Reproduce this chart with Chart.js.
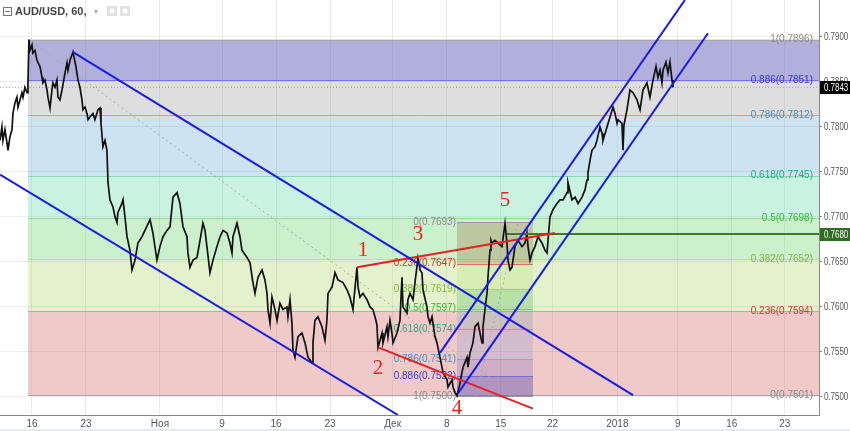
<!DOCTYPE html>
<html>
<head>
<meta charset="utf-8">
<script src="https://cdn.jsdelivr.net/npm/chart.js@4.4.1/dist/chart.umd.min.js"></script>
<style>
  body { margin: 0; background: #fff; }
  canvas { display: block; }
</style>
</head>
<body>
<canvas id="audChart" width="850" height="431"></canvas>
<script>
// AUD/USD, 60 - price (x = trading days from 16 Oct)
var priceDays = [
  -2.96,-2.78,-2.69,-2.50,-2.31,-2.22,-2.04,-1.85,-1.76,-1.57,-1.39,-1.30,-1.11,-0.93,-0.83,-0.65,-0.46,-0.37,-0.28,-0.19,
  0,0.09,0.28,0.46,0.74,0.93,1.02,1.20,1.39,1.48,1.67,1.85,1.94,2.13,2.31,2.41,2.59,2.78,2.87,3.06,
  3.24,3.33,3.52,3.80,4.07,4.26,4.44,4.63,4.72,4.91,5.09,5.19,5.37,5.65,5.83,6.11,6.30,6.39,6.57,6.76,
  6.94,7.04,7.22,7.50,7.69,7.87,7.96,8.33,8.43,8.61,8.80,9.07,9.26,9.54,9.81,10.19,10.46,10.93,11.20,11.57,
  11.85,12.13,12.50,12.78,13.06,13.43,13.70,13.98,14.35,14.44,14.63,14.91,15.28,15.56,15.83,16.02,16.20,16.48,16.76,17.13,
  17.41,17.69,18.06,18.33,18.52,18.61,18.98,19.26,19.44,19.91,20.19,20.46,20.65,20.93,21.30,21.57,21.76,21.85,22.04,22.22,
  22.50,22.69,22.96,23.24,23.61,23.70,23.89,24.07,24.17,24.35,24.63,25.00,25.28,25.56,25.93,26.02,26.20,26.48,26.85,27.13,
  27.31,27.41,27.78,28.06,28.33,28.80,29.17,29.44,29.72,30.09,30.19,30.37,30.65,31.02,31.30,31.57,31.76,31.94,32.04,32.41,
  32.50,32.87,32.96,33.15,33.33,33.43,33.80,34.07,34.26,34.35,34.72,34.81,35.00,35.28,35.46,35.74,35.93,36.11,36.20,36.57,
  36.67,36.85,37.04,37.31,37.50,37.78,37.96,38.06,38.43,38.52,38.89,38.98,39.17,39.35,39.63,39.81,39.91,40.28,40.37,40.56,
  40.83,41.02,41.30,41.48,41.67,41.76,41.94,42.13,42.22,42.41,42.50,42.59,42.87,43.15,43.52,43.80,43.98,44.07,44.26,44.44,
  44.72,45.00,45.37,45.65,45.83,45.93,46.11,46.30,46.57,46.85,47.22,47.50,47.69,47.78,47.96,48.24,48.61,48.89,49.17,49.54,
  49.63,50.00,50.28,50.56,50.93,51.20,51.39,51.48,51.67,51.85,52.13,52.31,52.59,52.78,52.87,53.24,53.52,53.80,53.98,54.17,
  54.26,54.63,54.72,54.81,55.09,55.37,55.65,56.02,56.30,56.57,56.94,57.22,57.50,57.78,57.96,58.15,58.33,58.43,58.70,58.89,
  59.07,59.26,59.35
];
var priceValues = [
  0.7784,0.7799,0.7784,0.7796,0.7781,0.7773,0.7788,0.7796,0.7814,0.7826,0.7832,0.7821,0.7829,0.7837,0.7832,0.7843,0.7837,0.7848,0.7896,0.7884,
  0.7890,0.7881,0.7884,0.7873,0.7866,0.7854,0.7848,0.7851,0.7840,0.7832,0.7820,0.7840,0.7848,0.7843,0.7851,0.7832,0.7829,0.7840,0.7846,0.7859,
  0.7870,0.7862,0.7873,0.7882,0.7866,0.7851,0.7843,0.7829,0.7818,0.7821,0.7814,0.7807,0.7810,0.7814,0.7807,0.7818,0.7820,0.7803,0.7777,0.7784,
  0.7773,0.7737,0.7718,0.7710,0.7699,0.7693,0.7704,0.7714,0.7718,0.7699,0.7677,0.7662,0.7640,0.7651,0.7670,0.7677,0.7684,0.7696,0.7681,0.7651,
  0.7666,0.7677,0.7684,0.7688,0.7721,0.7726,0.7714,0.7688,0.7677,0.7659,0.7643,0.7651,0.7654,0.7673,0.7692,0.7684,0.7666,0.7637,0.7651,0.7666,
  0.7677,0.7684,0.7681,0.7670,0.7659,0.7677,0.7692,0.7677,0.7662,0.7654,0.7648,0.7626,0.7614,0.7632,0.7640,0.7629,0.7614,0.7596,0.7581,0.7610,
  0.7596,0.7584,0.7603,0.7596,0.7599,0.7588,0.7607,0.7581,0.7551,0.7543,0.7566,0.7570,0.7559,0.7543,0.7537,0.7559,0.7584,0.7588,0.7577,0.7562,
  0.7584,0.7614,0.7621,0.7637,0.7629,0.7626,0.7618,0.7610,0.7596,0.7643,0.7621,0.7610,0.7614,0.7607,0.7599,0.7596,0.7588,0.7579,0.7554,0.7570,
  0.7559,0.7577,0.7566,0.7584,0.7570,0.7559,0.7570,0.7584,0.7632,0.7599,0.7592,0.7607,0.7614,0.7607,0.7626,0.7653,0.7640,0.7637,0.7618,0.7599,
  0.7588,0.7581,0.7588,0.7566,0.7559,0.7543,0.7532,0.7526,0.7518,0.7510,0.7518,0.7510,0.7504,0.7500,0.7514,0.7526,0.7532,0.7543,0.7532,0.7548,
  0.7559,0.7577,0.7581,0.7570,0.7559,0.7577,0.7596,0.7614,0.7632,0.7662,0.7673,0.7670,0.7673,0.7670,0.7666,0.7692,0.7670,0.7651,0.7640,0.7643,
  0.7666,0.7673,0.7666,0.7670,0.7681,0.7666,0.7651,0.7659,0.7666,0.7677,0.7670,0.7662,0.7659,0.7673,0.7699,0.7707,0.7714,0.7718,0.7718,0.7726,
  0.7737,0.7718,0.7721,0.7714,0.7721,0.7729,0.7740,0.7748,0.7762,0.7773,0.7777,0.7784,0.7799,0.7792,0.7784,0.7799,0.7810,0.7821,0.7814,0.7803,
  0.7807,0.7803,0.7773,0.7801,0.7818,0.7840,0.7837,0.7829,0.7818,0.7840,0.7848,0.7832,0.7851,0.7866,0.7854,0.7862,0.7848,0.7862,0.7871,0.7859,
  0.7871,0.7851,0.7843
];

// axes
var xTickDays   = [0, 5, 11.85, 17.6, 22.6, 27.6, 33.4, 38.4, 43.4, 48.2, 54.2, 59.8, 64.8, 69.7];
var xTickLabels = ['16', '23', 'Ноя', '9', '16', '23', 'Дек', '8', '15', '22', '2018', '9', '16', '23'];
var yTicks = [0.75, 0.755, 0.76, 0.765, 0.77, 0.775, 0.78, 0.785, 0.79];
var xMin = -2.96, xMax = 72.87, yMin = 0.74789, yMax = 0.794;

// big fib retracement (high -> low)
var bigFibStart  = -0.37;
var bigFibRatios = ['1', '0.886', '0.786', '0.618', '0.5', '0.382', '0.236', '0'];
var bigFibPrices = [0.7896, 0.7851, 0.7812, 0.7745, 0.7698, 0.7652, 0.7594, 0.7501];

// small fib retracement (point 5 -> point 4)
var smallFibStart  = 39.35;
var smallFibEnd    = 46.39;
var smallFibRatios = ['0', '0.236', '0.382', '0.5', '0.618', '0.786', '0.886', '1'];
var smallFibPrices = [0.7693, 0.7647, 0.7619, 0.7597, 0.7574, 0.7541, 0.7522, 0.7500];

// drawn lines [day, price]
var chanDownUpper = [[3.80, 0.7882], [55.65, 0.7501]];
var chanDownLower = [[-2.96, 0.7746], [33.89, 0.74789]];
var chanUpLower   = [[39.44, 0.7503], [62.59, 0.7903]];
var chanUpUpper   = [[37.78, 0.7548], [60.46, 0.7940]];
var redUpper      = [[30.09, 0.7643], [48.43, 0.7681]];
var redLower      = [[32.04, 0.7554], [46.39, 0.7486]];
var greenLevel    = [[43.98, 0.7680], [72.87, 0.7680]];
var lastPriceLine = [[-2.96, 0.7843], [72.87, 0.7843]];
var bigTrend      = [[-0.28, 0.7896], [44.72, 0.7500]];
var smallTrend    = [[41.11, 0.7500], [45.00, 0.7693]];

// wave numbers
var waveLabels = ['1', '2', '3', '4', '5'];
var waveDays   = [30.65, 32.04, 35.74, 39.35, 43.80];
var wavePrices = [0.7662, 0.7531, 0.7680, 0.7486, 0.7717];

var lastPrice = 0.7843;
var greenPrice = 0.7680;

function pts(arr) {
  return arr.map(function (p) { return { x: p[0], y: p[1] }; });
}
function lineSet(arr, color, width, dash) {
  return {
    data: pts(arr),
    borderColor: color,
    borderWidth: width,
    borderDash: dash || [],
    pointRadius: 0,
    fill: false,
    tension: 0
  };
}

var bigBandColors = ['rgba(60,55,165,0.40)', 'rgba(90,90,90,0.20)', 'rgba(52,144,200,0.25)',
                     'rgba(40,204,140,0.25)', 'rgba(52,196,48,0.25)', 'rgba(115,190,0,0.20)', 'rgba(196,40,40,0.25)'];
var bigLineColors = ['#a8a8a8', '#7474dc', '#80b8dc', '#88d8b4', '#94dc90', '#bcdc90', '#e09a9a', '#a8a8a8'];
var bigTextColors = ['#8a8a8a', '#3c3cc0', '#3d90cc', '#25ad80', '#38b838', '#86b82c', '#cc3434', '#8a8a8a'];

var smallBandColors = ['rgba(150,105,60,0.30)', 'rgba(129,199,0,0.12)', 'rgba(60,170,60,0.25)',
                       'rgba(0,150,136,0.15)', 'rgba(90,140,220,0.20)', 'rgba(80,80,190,0.22)', 'rgba(60,45,175,0.35)'];
var smallLineColors = ['#9a9a9a', '#d07070', '#a8d070', '#70c870', '#60c0a8', '#78acd8', '#7070d0', '#9a9a9a'];
var smallTextColors = ['#8a8a8a', '#c83434', '#86b82c', '#38b838', '#25ad80', '#3d90cc', '#3c3cc0', '#8a8a8a'];

var fibPlugin = {
  id: 'fib',
  beforeDatasetsDraw: function (chart) {
    var ctx = chart.ctx, a = chart.chartArea;
    var x = chart.scales.x, y = chart.scales.y;
    ctx.save();
    ctx.beginPath();
    ctx.rect(a.left, a.top, a.right - a.left, a.bottom - a.top);
    ctx.clip();

    // big fib
    var bx0 = x.getPixelForValue(bigFibStart), bx1 = a.right;
    for (var i = 0; i < bigFibPrices.length - 1; i++) {
      var y0 = y.getPixelForValue(bigFibPrices[i]);
      var y1 = y.getPixelForValue(bigFibPrices[i + 1]);
      ctx.fillStyle = bigBandColors[i];
      ctx.fillRect(bx0, y0, bx1 - bx0, y1 - y0);
    }
    ctx.lineWidth = 1;
    for (i = 0; i < bigFibPrices.length; i++) {
      var yy = Math.round(y.getPixelForValue(bigFibPrices[i])) + 0.5;
      ctx.strokeStyle = bigLineColors[i];
      ctx.beginPath(); ctx.moveTo(bx0, yy); ctx.lineTo(bx1, yy); ctx.stroke();
    }

    // small fib
    var sx0 = x.getPixelForValue(smallFibStart), sx1 = x.getPixelForValue(smallFibEnd);
    for (i = 0; i < smallFibPrices.length - 1; i++) {
      var s0 = y.getPixelForValue(smallFibPrices[i]);
      var s1 = y.getPixelForValue(smallFibPrices[i + 1]);
      ctx.fillStyle = smallBandColors[i];
      ctx.fillRect(sx0, s0, sx1 - sx0, s1 - s0);
    }
    for (i = 0; i < smallFibPrices.length; i++) {
      var sy = Math.round(y.getPixelForValue(smallFibPrices[i])) + 0.5;
      ctx.strokeStyle = smallLineColors[i];
      ctx.beginPath(); ctx.moveTo(sx0, sy); ctx.lineTo(sx1, sy); ctx.stroke();
    }

    // fib texts
    ctx.font = '10px "Liberation Sans", Arial, sans-serif';
    ctx.textBaseline = 'middle';
    ctx.textAlign = 'right';
    for (i = 0; i < bigFibPrices.length; i++) {
      ctx.fillStyle = bigTextColors[i];
      ctx.fillText(bigFibRatios[i] + '(' + bigFibPrices[i].toFixed(4) + ')', a.right - 6, y.getPixelForValue(bigFibPrices[i]));
    }
    for (i = 0; i < smallFibPrices.length; i++) {
      ctx.fillStyle = smallTextColors[i];
      ctx.fillText(smallFibRatios[i] + '(' + smallFibPrices[i].toFixed(4) + ')', sx0 - 1, y.getPixelForValue(smallFibPrices[i]));
    }
    ctx.restore();
  },
  afterDatasetsDraw: function (chart) {
    var ctx = chart.ctx, x = chart.scales.x, y = chart.scales.y;
    ctx.save();
    ctx.font = '21px "Liberation Serif", "Times New Roman", serif';
    ctx.fillStyle = '#e8231c';
    ctx.textAlign = 'center';
    ctx.textBaseline = 'middle';
    for (var i = 0; i < waveLabels.length; i++) {
      ctx.fillText(waveLabels[i], x.getPixelForValue(waveDays[i]), y.getPixelForValue(wavePrices[i]));
    }
    ctx.restore();
  },
  afterDraw: function (chart) {
    var ctx = chart.ctx, a = chart.chartArea, y = chart.scales.y;
    ctx.save();
    // y tick labels, condensed like the reference
    ctx.font = '11px "Liberation Sans", Arial, sans-serif';
    ctx.textBaseline = 'middle';
    ctx.textAlign = 'left';
    ctx.fillStyle = '#555';
    yTicks.forEach(function (v) {
      ctx.save();
      ctx.translate(a.right + 5, y.getPixelForValue(v));
      ctx.scale(0.72, 1);
      ctx.fillText(v.toFixed(4), 0, 0.5);
      ctx.restore();
    });

    // price boxes on the axis
    var boxes = [[lastPrice, '#000000'], [greenPrice, '#2f6b22']];
    boxes.forEach(function (b) {
      var py = Math.round(y.getPixelForValue(b[0]));
      ctx.fillStyle = b[1];
      ctx.fillRect(a.right + 1, py - 6, 850 - a.right - 1, 13);
      ctx.fillStyle = '#ffffff';
      ctx.save();
      ctx.translate(a.right + 5, py + 0.5);
      ctx.scale(0.72, 1);
      ctx.fillText(b[0].toFixed(4), 0, 0);
      ctx.restore();
    });

    // title
    ctx.strokeStyle = '#777';
    ctx.lineWidth = 1;
    ctx.strokeRect(3.5, 7.5, 8, 8);
    ctx.beginPath(); ctx.moveTo(5, 11.5); ctx.lineTo(10, 11.5); ctx.stroke();
    ctx.fillStyle = '#444';
    ctx.font = 'bold 11px "Liberation Sans", Arial, sans-serif';
    ctx.fillText('AUD/USD, 60,', 15, 12);
    ctx.fillStyle = '#aaa';
    ctx.font = '8px "Liberation Sans", Arial, sans-serif';
    ctx.fillText('▾', 94, 12);
    ctx.fillStyle = '#e2e2e2';
    ctx.fillRect(107, 6, 10, 10);
    ctx.fillRect(120, 6, 10, 10);
    ctx.fillStyle = '#ffffff';
    ctx.beginPath(); ctx.arc(112, 11, 2.5, 0, Math.PI * 2); ctx.fill();
    ctx.beginPath(); ctx.arc(125, 11, 2.5, 0, Math.PI * 2); ctx.fill();

    // bottom strip
    ctx.fillStyle = '#e6e9ee';
    ctx.fillRect(0, 429, 850, 2);
    ctx.restore();
  }
};

var priceData = priceDays.map(function (d, i) { return { x: d, y: priceValues[i] }; });

var ctx = document.getElementById('audChart').getContext('2d');
var chart = new Chart(ctx, {
  type: 'line',
  data: {
    datasets: [
      lineSet(chanDownUpper, '#1a1ae8', 2),
      lineSet(chanDownLower, '#1a1ae8', 2),
      lineSet(chanUpLower, '#1a1ae8', 2),
      lineSet(chanUpUpper, '#1a1ae8', 2),
      lineSet(redUpper, '#e82020', 2),
      lineSet(redLower, '#e82020', 2),
      lineSet(greenLevel, '#3a7a2a', 2),
      {
        data: priceData,
        borderColor: '#111111',
        borderWidth: 1.7,
        pointRadius: 0,
        fill: false,
        tension: 0
      },
      lineSet(lastPriceLine, '#a0a0a0', 1, [1, 2]),
      lineSet(bigTrend, '#a8a8a8', 1, [2, 3]),
      lineSet(smallTrend, '#a8a8a8', 1, [2, 3])
    ]
  },
  options: {
    responsive: false,
    animation: false,
    devicePixelRatio: 1,
    layout: { padding: 0 },
    plugins: {
      legend: { display: false },
      tooltip: { enabled: false }
    },
    scales: {
      x: {
        type: 'linear',
        min: xMin,
        max: xMax,
        afterFit: function (s) {
          s.height = 16;
          s.paddingLeft = 0;
          s.paddingRight = 0;
        },
        afterBuildTicks: function (s) {
          s.ticks = xTickDays.map(function (v) { return { value: v }; });
        },
        ticks: {
          autoSkip: false,
          maxRotation: 0,
          padding: 3,
          color: '#555',
          font: { family: '"Liberation Sans", Arial, sans-serif', size: 10 },
          callback: function (v, i) { return xTickLabels[i]; }
        },
        grid: { color: 'rgba(0,0,0,0.07)', drawTicks: false },
        border: { color: '#8a8a8a' }
      },
      y: {
        position: 'right',
        min: yMin,
        max: yMax,
        afterFit: function (s) {
          s.width = 31;
          s.paddingTop = 0;
          s.paddingBottom = 0;
        },
        afterBuildTicks: function (s) {
          s.ticks = yTicks.map(function (v) { return { value: v }; });
        },
        ticks: { display: false },
        grid: { color: 'rgba(0,0,0,0.07)', tickLength: 3, tickColor: '#8a8a8a' },
        border: { color: '#8a8a8a' }
      }
    }
  },
  plugins: [fibPlugin]
});
</script>
</body>
</html>
